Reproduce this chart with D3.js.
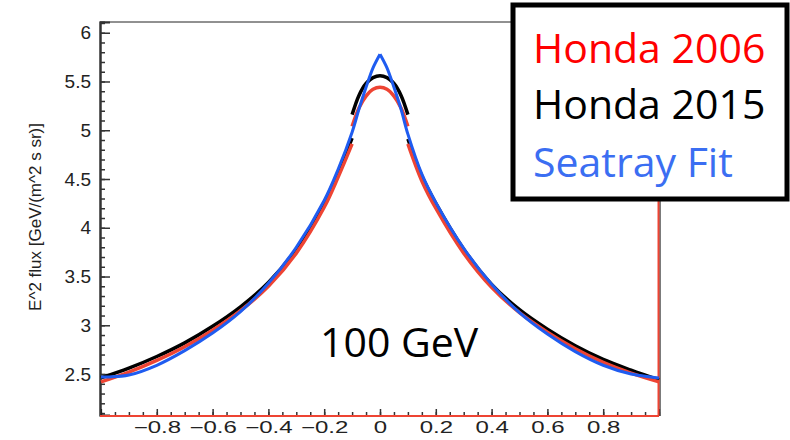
<!DOCTYPE html>
<html>
<head>
<meta charset="utf-8">
<script src="https://cdn.jsdelivr.net/npm/d3@7"></script>
<style>
  body { margin: 0; background: #fff; }
  svg { display: block; }
</style>
</head>
<body>
<svg id="chart" width="790" height="440"></svg>
<script>
// cos(zenith) bins, outer part and the |x|<0.1 centre part
const xOuterLeft = [-1, -0.9, -0.8, -0.7, -0.6, -0.5, -0.4, -0.3, -0.2, -0.15, -0.1];
const xOuterRight = [0.1, 0.15, 0.2, 0.3, 0.4, 0.5, 0.6, 0.7, 0.8, 0.9, 1];
const xCentre = [-0.1, -0.075, -0.05, -0.025, 0, 0.025, 0.05, 0.075, 0.1];

const honda2006Left = [2.42, 2.52, 2.64, 2.78, 2.95, 3.15, 3.40, 3.74, 4.21, 4.52, 4.86];
const honda2006Right = [4.86, 4.48, 4.20, 3.74, 3.39, 3.13, 2.93, 2.76, 2.62, 2.51, 2.42];
const honda2006Centre = [5.04, 5.23, 5.35, 5.42, 5.44, 5.42, 5.35, 5.23, 5.04];

const honda2015Left = [2.46, 2.56, 2.68, 2.82, 2.99, 3.19, 3.44, 3.78, 4.26, 4.57, 4.92];
const honda2015Right = [4.91, 4.53, 4.25, 3.78, 3.42, 3.16, 2.96, 2.79, 2.65, 2.54, 2.44];
const honda2015Centre = [5.16, 5.36, 5.48, 5.54, 5.56, 5.54, 5.48, 5.36, 5.16];

const seatrayLeftX = [-1, -0.97, -0.9, -0.8, -0.7, -0.6, -0.5, -0.4, -0.3, -0.2, -0.15, -0.1, -0.075, -0.05, -0.025, 0];
const seatrayLeft = [2.47, 2.47, 2.49, 2.59, 2.74, 2.92, 3.14, 3.43, 3.80, 4.28, 4.60, 4.98, 5.22, 5.44, 5.64, 5.78];
const seatrayRightX = [0, 0.025, 0.05, 0.075, 0.1, 0.15, 0.2, 0.3, 0.4, 0.5, 0.6, 0.7, 0.8, 0.9, 0.97, 1];
const seatrayRight = [5.78, 5.64, 5.44, 5.22, 4.96, 4.55, 4.26, 3.79, 3.42, 3.13, 2.91, 2.73, 2.59, 2.50, 2.47, 2.46];

const yMajor = [2.5, 3, 3.5, 4, 4.5, 5, 5.5, 6];
const yMinor = d3.range(21, 62).map(d => d / 10);
const xMajor = [-0.8, -0.6, -0.4, -0.2, 0, 0.2, 0.4, 0.6, 0.8];
const xMinor = d3.range(-19, 20).map(d => d / 20);

const legendLabels = ["Honda 2006", "Honda 2015", "Seatray Fit"];
const legendColors = ["#ff0000", "#000000", "#3b6ef2"];

const svg = d3.select("#chart");

const x = d3.scaleLinear().domain([-1, 1]).range([101, 659]);
const y = d3.scaleLinear().domain([2.08, 6.11]).range([415, 22]);

// frame
svg.append("line").attr("x1", 100).attr("x2", 660).attr("y1", 22).attr("y2", 22)
    .attr("stroke", "#222").attr("stroke-width", 1);
svg.append("line").attr("x1", 660).attr("x2", 660).attr("y1", 22).attr("y2", 416)
    .attr("stroke", "#222").attr("stroke-width", 1.2);

// y axis, ticks pointing inside
const yMinorAxis = svg.append("g").attr("transform", "translate(100,0)")
    .call(d3.axisLeft(y).tickValues(yMinor).tickSize(-5).tickFormat(""));
const yAxis = svg.append("g").attr("transform", "translate(100,0)")
    .call(d3.axisLeft(y).tickValues(yMajor).tickSize(-10).tickPadding(9).tickFormat(d3.format("")));
[yMinorAxis, yAxis].forEach(g => {
    g.select(".domain").attr("stroke", "#333").attr("stroke-width", 2);
    g.selectAll(".tick line").attr("stroke", "#333").attr("stroke-width", 1.5);
});
yAxis.selectAll("text").attr("font-family", "Liberation Sans, Arial, sans-serif")
    .attr("font-size", 19).attr("fill", "#222");

// x axis
const xMinorAxis = svg.append("g").attr("transform", "translate(0,415)")
    .call(d3.axisBottom(x).tickValues(xMinor).tickSize(-3).tickFormat(""));
const xAxis = svg.append("g").attr("transform", "translate(0,415)")
    .call(d3.axisBottom(x).tickValues(xMajor).tickSize(-6).tickFormat(d => d3.format("")(d).replace("-", "\u2212")));
[xMinorAxis, xAxis].forEach(g => {
    g.select(".domain").attr("stroke", "#222").attr("stroke-width", 1.2);
    g.selectAll(".tick line").attr("stroke", "#333").attr("stroke-width", 1.5);
});
xAxis.selectAll("text")
    .attr("y", 18).attr("dy", 0)
    .attr("transform", "scale(1.5,1)")
    .attr("font-family", "Liberation Sans, Arial, sans-serif")
    .attr("font-size", 16).attr("fill", "#222");

// red edges drawn by the histogram
svg.append("line").attr("x1", 100).attr("x2", 659).attr("y1", 416).attr("y2", 416)
    .attr("stroke", "#ee4433").attr("stroke-width", 2);
svg.append("line").attr("x1", 658.5).attr("x2", 658.5).attr("y1", 200).attr("y2", 416)
    .attr("stroke", "#ee4433").attr("stroke-width", 2);

// y title
svg.append("text")
    .attr("transform", "translate(41,217) rotate(-90)")
    .attr("text-anchor", "middle")
    .attr("font-family", "Liberation Sans, Arial, sans-serif")
    .attr("font-size", 17).attr("fill", "#222")
    .text("E^2 flux [GeV/(m^2 s sr)]");

// curves
const line = d3.line().x(d => x(d[0])).y(d => y(d[1])).curve(d3.curveCatmullRom.alpha(0.5));
const zip = (xs, ys) => xs.map((v, i) => [v, ys[i]]);

function drawSeries(segments, color, width) {
    segments.forEach(seg => {
        svg.append("path")
            .attr("d", line(seg))
            .attr("fill", "none")
            .attr("stroke", color)
            .attr("stroke-width", width)
            .attr("stroke-linejoin", "round");
    });
}

drawSeries([zip(xOuterLeft, honda2015Left), zip(xOuterRight, honda2015Right), zip(xCentre, honda2015Centre)], "#000", 3.5);
drawSeries([zip(xOuterLeft, honda2006Left), zip(xOuterRight, honda2006Right), zip(xCentre, honda2006Centre)], "#ee4433", 3.5);
drawSeries([zip(seatrayLeftX, seatrayLeft), zip(seatrayRightX, seatrayRight)], "#1f5cf0", 3);

// energy label
svg.append("text")
    .attr("x", 320).attr("y", 357)
    .attr("font-family", "Open Sans, sans-serif")
    .attr("font-size", 41).attr("fill", "#000")
    .text("100 GeV");

// legend box
svg.append("rect")
    .attr("x", 513).attr("y", 5).attr("width", 274).attr("height", 194)
    .attr("fill", "#fff").attr("stroke", "#000").attr("stroke-width", 5);

svg.selectAll(".legend")
    .data(legendLabels)
    .enter().append("text")
    .attr("class", "legend")
    .attr("x", 533)
    .attr("y", (d, i) => [63, 119, 177][i])
    .attr("font-family", "Open Sans, sans-serif")
    .attr("font-size", 41)
    .attr("fill", (d, i) => legendColors[i])
    .text(d => d);
</script>
</body>
</html>
